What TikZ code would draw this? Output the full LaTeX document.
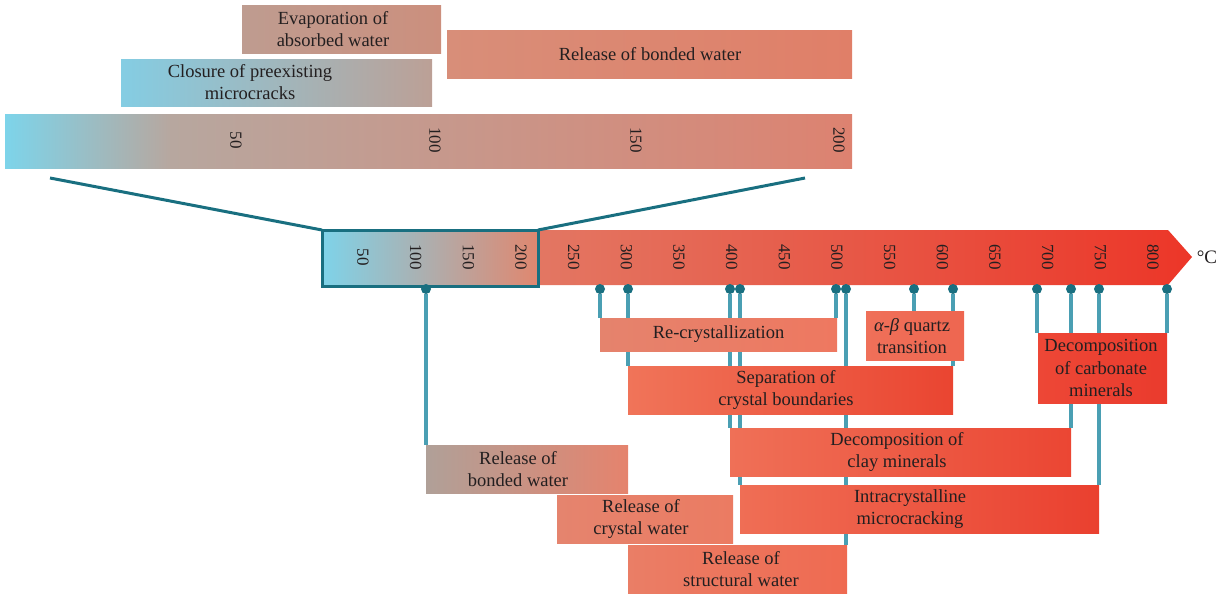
\documentclass[tikz,border=0pt]{standalone}
\usepackage{fontspec}
\setmainfont{Liberation Serif}
\usetikzlibrary{calc}
\pgfdeclarelayer{bg}
\pgfsetlayers{bg,main}
\definecolor{tealdark}{HTML}{196F80}
\definecolor{stemc}{HTML}{4A9FB3}
\definecolor{txt}{HTML}{231F20}
\definecolor{cyanA}{HTML}{7DD4EA}
\definecolor{greyA}{HTML}{B7A79F}
\definecolor{brownA}{HTML}{C9927F}
\definecolor{salmA}{HTML}{DD8270}
\definecolor{evL}{HTML}{BE9C90}\definecolor{evR}{HTML}{CC8F7D}
\definecolor{clL}{HTML}{84CDE3}\definecolor{clM}{HTML}{A9AEAB}\definecolor{clR}{HTML}{BCA096}
\definecolor{rtL}{HTML}{D88E79}\definecolor{rtR}{HTML}{E07F68}
\definecolor{mbL}{HTML}{E08C76}\definecolor{mbM}{HTML}{EE6A52}\definecolor{mbR}{HTML}{EC3628}
\definecolor{hlL}{HTML}{7ED3E9}\definecolor{hlM}{HTML}{C3A196}\definecolor{hlR}{HTML}{E0876F}
\definecolor{rcL}{HTML}{E5836D}\definecolor{rcR}{HTML}{EE7860}
\definecolor{qzL}{HTML}{EF7059}\definecolor{qzR}{HTML}{EE6650}
\definecolor{spL}{HTML}{F07459}\definecolor{spR}{HTML}{EA4531}
\definecolor{cbL}{HTML}{ED4736}\definecolor{cbR}{HTML}{EA3B2D}
\definecolor{cyL}{HTML}{EF7057}\definecolor{cyR}{HTML}{EB4633}
\definecolor{inL}{HTML}{EF6E55}\definecolor{inR}{HTML}{EA402F}
\definecolor{rbL}{HTML}{B0A098}\definecolor{rbM}{HTML}{DB8A77}\definecolor{rbR}{HTML}{E5836D}
\definecolor{cwL}{HTML}{E5846E}\definecolor{cwR}{HTML}{EB7B62}
\definecolor{swL}{HTML}{EA7E66}\definecolor{swR}{HTML}{EF6A51}
\begin{document}
\begin{tikzpicture}[x=1pt,y=-1pt,
  boxnode/.style={anchor=north west, inner sep=0pt, outer sep=0pt, draw=none},
  lbl/.style={inner sep=0pt, font=\fontsize{18.5}{22.5}\selectfont, align=center, text=txt},
  ticklbl/.style={inner sep=0pt, font=\fontsize{17}{17}\selectfont, rotate=-90, text=txt},
  stemline/.style={stemc, line width=3.4pt},
  dotnode/.style={circle, fill=tealdark, minimum size=10pt, inner sep=0pt},
  zoomline/.style={tealdark, line width=3pt}]
\useasboundingbox (0,0) rectangle (1218,595);

% ---------- top enlarged scale ----------
\node[boxnode, minimum width=847pt, minimum height=54pt] (topbar) at (5,114) {};
\shade[left color=cyanA, right color=greyA] (5,114) rectangle (171,168);
\shade[left color=greyA, middle color=brownA, right color=salmA] (170,114) rectangle (852,168);
\foreach \t/\x in {50/236,100/435,150/636,200/839}
  \node[ticklbl] (tb\t) at (\x,140) {\t};

\node[boxnode, minimum width=199pt, minimum height=48pt, left color=evL, right color=evR] (evap) at (242,5) {};
\node[lbl] (evapt) at (333,29) {Evaporation of\\absorbed water};
\node[boxnode, minimum width=311pt, minimum height=47pt, left color=clL, middle color=clM, right color=clR] (closure) at (121,59) {};
\node[lbl] (closuret) at (250,82) {Closure of preexisting\\microcracks};
\node[boxnode, minimum width=405pt, minimum height=48pt, left color=rtL, right color=rtR] (reltop) at (447,30) {};
\node[lbl] (reltopt) at (650,54) {Release of bonded water};

% ---------- main axis ----------
\shade[left color=mbL, middle color=mbM, right color=mbR]
  (322,230) -- (1168,230) -- (1192,257) -- (1168,285) -- (322,285) -- cycle;
\node[boxnode, minimum width=216pt, minimum height=56pt, left color=hlL, middle color=hlM, right color=hlR] (hl) at (322,230) {};
\draw[tealdark, line width=3pt] (hl.north west) rectangle (hl.south east);
\foreach \t in {50,100,...,800}
  \node[ticklbl] (ax\t) at ({363+1.0533*(\t-50)},257) {\t};
\node[inner sep=0pt, font=\fontsize{19}{19}\selectfont, text=txt] (degc) at (1207,257) {°C};

% zoom lines
\coordinate (zl) at (50,178);
\coordinate (zr) at (805,178);
\draw[zoomline] (zl) -- (hl.north west);
\draw[zoomline] (zr) -- (hl.north east);

% ---------- process boxes ----------
\node[boxnode, minimum width=237pt, minimum height=33pt, left color=rcL, right color=rcR] (recryst) at (600,318) {};
\node[lbl] (recrystt) at (recryst.center) {Re-crystallization};
\node[boxnode, minimum width=98pt, minimum height=49pt, left color=qzL, right color=qzR] (quartz) at (866,311) {};
\node[lbl] (quartzt) at (912,336) {\textit{α-β} quartz\\transition};
\node[boxnode, minimum width=325pt, minimum height=48pt, left color=spL, right color=spR] (sep) at (628,366) {};
\node[lbl] (sept) at (786,390) {Separation of\\crystal boundaries};
\node[boxnode, minimum width=129pt, minimum height=70pt, left color=cbL, right color=cbR] (carb) at (1038,333) {};
\node[lbl] (carbt) at (1101,368) {Decomposition\\of carbonate\\minerals};
\node[boxnode, minimum width=341pt, minimum height=48pt, left color=cyL, right color=cyR] (clay) at (730,428) {};
\node[lbl] (clayt) at (897,452) {Decomposition of\\clay minerals};
\node[boxnode, minimum width=359pt, minimum height=48pt, left color=inL, right color=inR] (intra) at (740,485) {};
\node[lbl] (intrat) at (910,509) {Intracrystalline\\microcracking};
\node[boxnode, minimum width=202pt, minimum height=48pt, left color=rbL, middle color=rbM, right color=rbR] (relbond) at (426,445) {};
\node[lbl] (relbondt) at (518,469) {Release of\\bonded water};
\node[boxnode, minimum width=176pt, minimum height=48pt, left color=cwL, right color=cwR] (cryst) at (557,495) {};
\node[lbl] (crystt) at (641,519) {Release of\\crystal water};
\node[boxnode, minimum width=219pt, minimum height=48pt, left color=swL, right color=swR] (struct) at (628,545) {};
\node[lbl] (structt) at (741,569) {Release of\\structural water};

% ---------- markers ----------
\foreach \i/\x in {1/426,2/600,3/628,4/730,5/740,6/836,7/846,8/914,9/953,10/1037,11/1071,12/1099,13/1167}
  \node[dotnode] (d\i) at (\x,289) {};

\begin{pgfonlayer}{bg}
\draw[stemline] (d1) -- (d1 |- relbond.north);
\draw[stemline] (d2) -- (d2 |- recryst.north);
\draw[stemline] (d3) -- (d3 |- sep.north);
\draw[stemline] (d4) -- (d4 |- clay.north);
\draw[stemline] (d5) -- (d5 |- intra.north);
\draw[stemline] (d6) -- (d6 |- recryst.north);
\draw[stemline] (d7) -- (d7 |- struct.north);
\draw[stemline] (d8) -- (d8 |- quartz.north);
\draw[stemline] (d9) -- (d9 |- sep.north);
\draw[stemline] (d10) -- (d10 |- carb.north);
\draw[stemline] (d11) -- (d11 |- clay.north);
\draw[stemline] (d12) -- (d12 |- intra.north);
\draw[stemline] (d13) -- (d13 |- carb.north);
\end{pgfonlayer}
\end{tikzpicture}
\end{document}
